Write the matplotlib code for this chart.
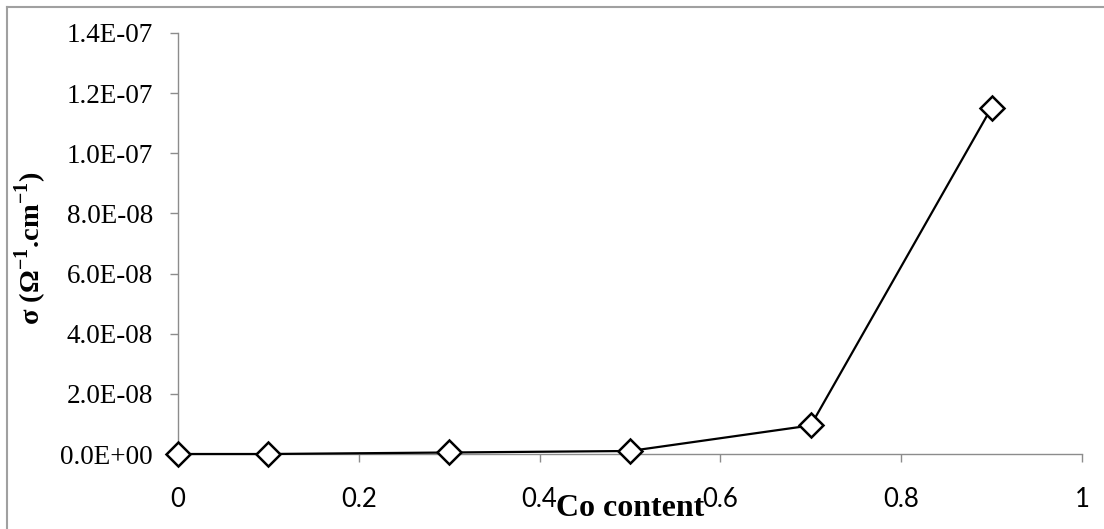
import matplotlib
import matplotlib.pyplot as plt
from matplotlib.lines import Line2D
from matplotlib.ticker import FuncFormatter, MultipleLocator

matplotlib.use('Agg')

# data
co_content = [0.0, 0.1, 0.3, 0.5, 0.7, 0.9]
sigma = [0.0, 0.0, 0.5e-9, 1.0e-9, 9.5e-9, 1.152e-7]

plt.rcParams['mathtext.fontset'] = 'custom'
plt.rcParams['mathtext.rm'] = 'Liberation Serif:bold'
plt.rcParams['mathtext.bf'] = 'Liberation Serif:bold'

W, H = 1104, 529
fig = plt.figure(figsize=(W / 100, H / 100), dpi=100)
ax = fig.add_axes([178 / W, 1 - 454 / H, (1082 - 178) / W, (454 - 33) / H])

ax.plot(co_content, sigma, color='black', lw=1.6, marker='D', markersize=12,
        markerfacecolor='white', markeredgecolor='black', markeredgewidth=1.8,
        clip_on=False, zorder=5)

ax.set_xlim(0, 1)
ax.set_ylim(0, 1.4e-7)
ax.xaxis.set_major_locator(MultipleLocator(0.2))
ax.yaxis.set_major_locator(MultipleLocator(2e-8))
ax.xaxis.set_major_formatter(FuncFormatter(lambda v, p: '%g' % round(v, 2)))
ax.yaxis.set_major_formatter(FuncFormatter(lambda v, p: '%.1E' % v))

for side in ['top', 'right']:
    ax.spines[side].set_visible(False)
for side in ['left', 'bottom']:
    ax.spines[side].set_color('#8c8c8c')
    ax.spines[side].set_linewidth(1.0)

ax.tick_params(axis='both', direction='out', length=6, width=1.0, color='#8c8c8c')
ax.tick_params(axis='x', pad=18)
ax.tick_params(axis='y', pad=12)
for lab in ax.get_xticklabels():
    lab.set_fontfamily('Lato')
    lab.set_fontsize(18.5)
for lab in ax.get_yticklabels():
    lab.set_fontfamily('Liberation Serif')
    lab.set_fontsize(19.5)

fig.text(630 / W, 1 - 508 / H, 'Co content', ha='center', va='center',
         fontfamily='Liberation Serif', fontweight='bold', fontsize=23)
fig.text(31 / W, 1 - 248 / H, r'σ (Ω$^{\mathbf{-1}}$.cm$^{\mathbf{-1}}$)',
         ha='center', va='center', rotation=90,
         fontfamily='Liberation Serif', fontweight='bold', fontsize=20.5)

# outer chart border (only left and top visible in the crop)
fig.add_artist(Line2D([7 / W, 7 / W], [0, 1 - 7 / H], color='#a0a0a0', lw=1.5))
fig.add_artist(Line2D([7 / W, 1], [1 - 7 / H, 1 - 7 / H], color='#a0a0a0', lw=1.5))

fig.savefig('out.png', dpi=100)
